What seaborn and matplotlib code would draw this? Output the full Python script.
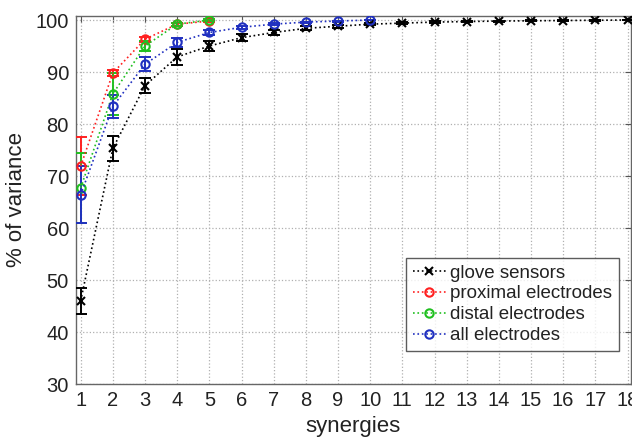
import matplotlib
matplotlib.use('Agg')
import matplotlib.pyplot as plt
import numpy as np
import pandas as pd
import seaborn as sns

# data
glove_x = list(range(1, 19))
glove_y = [46.0, 75.3, 87.4, 92.9, 95.0, 96.6, 97.6, 98.4, 98.8, 99.2, 99.4, 99.6, 99.7, 99.8, 99.85, 99.9, 99.95, 100.0]
glove_err = [2.5, 2.4, 1.4, 1.5, 1.0, 0.7, 0.5, 0.4, 0.3, 0.2, 0.2, 0.15, 0.1, 0.1, 0.1, 0.05, 0.05, 0.05]

prox_x = [1, 2, 3, 4, 5]
prox_y = [71.9, 89.8, 96.3, 99.2, 99.8]
prox_err = [5.6, 0.6, 0.5, 0.3, 0.1]

dist_x = [1, 2, 3, 4, 5]
dist_y = [67.7, 85.8, 95.0, 99.2, 100.0]
dist_err = [6.7, 4.0, 1.0, 0.3, 0.1]

all_x = list(range(1, 11))
all_y = [66.4, 83.4, 91.5, 95.7, 97.6, 98.6, 99.2, 99.6, 99.8, 100.0]
all_err = [5.5, 2.2, 1.4, 0.8, 0.4, 0.3, 0.2, 0.1, 0.1, 0.05]

series = [
    ('glove sensors', glove_x, glove_y, glove_err, 'black', 'x'),
    ('proximal electrodes', prox_x, prox_y, prox_err, '#ff2020', 'o'),
    ('distal electrodes', dist_x, dist_y, dist_err, '#20c020', 'o'),
    ('all electrodes', all_x, all_y, all_err, '#2030c0', 'o'),
]

sns.set_style('white')
plt.rcParams['font.family'] = ['Liberation Sans', 'DejaVu Sans']

fig = plt.figure(figsize=(6.32, 4.4), dpi=100)
ax = fig.add_axes([0.120, 0.127, 0.878, 0.837])

for name, xs, ys, errs, col, mk in series:
    df = pd.DataFrame({'synergies': xs, 'var': ys})
    ax.errorbar(xs, ys, yerr=errs, fmt='none', ecolor=col, elinewidth=1.4,
                capsize=4, capthick=1.4, zorder=3)
    sns.lineplot(data=df, x='synergies', y='var', ax=ax, color=col, linestyle=':',
                 linewidth=1.2, marker=mk, markersize=6, markerfacecolor='none',
                 markeredgecolor=col, markeredgewidth=1.5, label=name, zorder=4)

ax.set_xlim(0.85, 18.1)
ax.set_ylim(30, 100.8)
ax.set_xticks(range(1, 19))
ax.set_yticks(range(30, 101, 10))
ax.grid(True, linestyle=':', color='#b0b0b0', linewidth=0.9)
ax.tick_params(direction='in', top=True, right=True, length=4, labelsize=14.5,
               color='#555555', labelcolor='#222222', pad=5)
for s in ax.spines.values():
    s.set_color('#666666')
    s.set_linewidth(1.0)
ax.set_xlabel('synergies', fontsize=16, color='#222222', labelpad=4)
ax.set_ylabel('% of variance', fontsize=16, color='#222222', labelpad=6)

leg = ax.legend(loc='lower right', bbox_to_anchor=(0.995, 0.065), fontsize=13.5,
                frameon=True, fancybox=False, handlelength=1.8, handletextpad=0.2,
                borderpad=0.35, labelspacing=0.2)
leg.get_frame().set_edgecolor('#333333')
leg.get_frame().set_linewidth(1.0)
for t in leg.get_texts():
    t.set_color('#222222')

fig.savefig('out.png', dpi=100)
